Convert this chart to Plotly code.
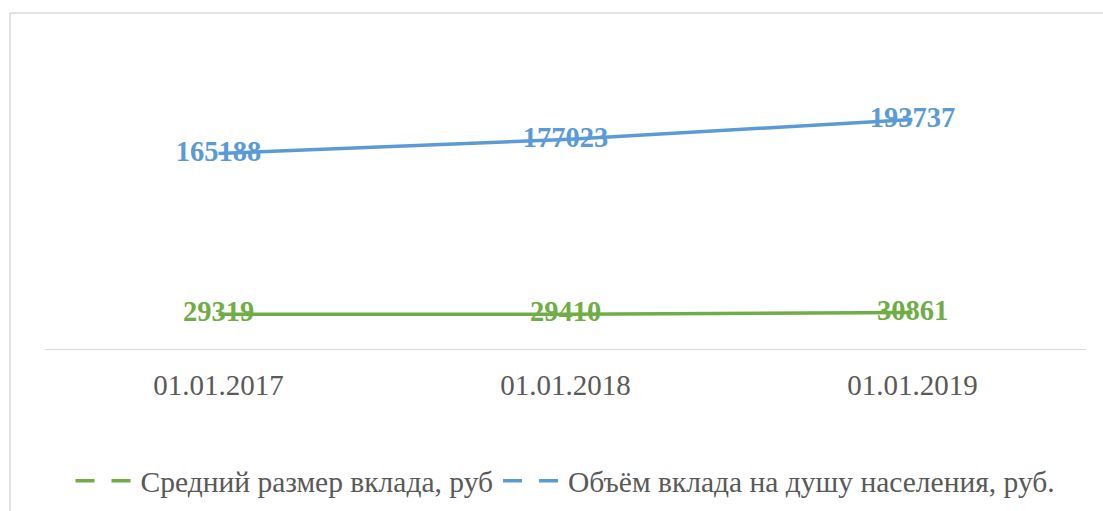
import plotly.graph_objects as go

categories = ["01.01.2017", "01.01.2018", "01.01.2019"]
avg_deposit = [29319, 29410, 30861]
per_capita = [165188, 177023, 193737]
series_names = ["Средний размер вклада, руб", "Объём вклада на душу населения, руб."]

GREEN = "#70ad47"
BLUE = "#5b9bd5"
SERIF = "Liberation Serif"

W, H = 1103, 511
ML, MR, MT, MB = 45, 17, 53, 162
PW, PH = W - ML - MR, H - MT - MB

def px_x(px):
    return (px - ML) / PW

def px_y(py):
    return (H - MB - py) / PH

fig = go.Figure()

for vals, color in [(avg_deposit, GREEN), (per_capita, BLUE)]:
    fig.add_trace(go.Scatter(
        x=categories, y=vals, mode="lines+text",
        text=[str(v) for v in vals], textposition="middle center",
        textfont=dict(family=SERIF, size=28.5, color=color, weight="bold"),
        line=dict(color=color, width=3.5),
        showlegend=False, hoverinfo="skip",
    ))

# legend entries (dashed symbols as in the reference)
for name, color in zip(series_names, [GREEN, BLUE]):
    fig.add_trace(go.Scatter(
        x=[None], y=[None], mode="lines", name=name,
        line=dict(color=color, width=3.5, dash="19px,17px"),
    ))

fig.update_layout(
    width=W, height=H,
    margin=dict(l=ML, r=MR, t=MT, b=MB, autoexpand=False),
    paper_bgcolor="white", plot_bgcolor="white",
    showlegend=True,
    legend=dict(
        orientation="h", x=0.5, xanchor="center", y=px_y(481), yanchor="middle",
        font=dict(family=SERIF, size=29.5, color="#595959"),
        itemwidth=60, tracegroupgap=0,
    ),
    xaxis=dict(
        type="category", showline=True, linecolor="#d9d9d9", linewidth=1.3,
        showgrid=False, zeroline=False, ticks="", automargin=False,
        tickfont=dict(family=SERIF, size=29, color="#595959"),
        ticklabelstandoff=10,
        range=[-0.5, 2.5],
    ),
    yaxis=dict(
        visible=False, range=[0, 250000], showgrid=False, zeroline=False,
    ),
    shapes=[
        dict(type="line", xref="paper", yref="paper",
             x0=px_x(10), x1=px_x(10), y0=px_y(13), y1=px_y(511),
             line=dict(color="#d9d9d9", width=1.5)),
        dict(type="line", xref="paper", yref="paper",
             x0=px_x(10), x1=px_x(1103), y0=px_y(13), y1=px_y(13),
             line=dict(color="#d9d9d9", width=1.5)),
    ],
)

fig.write_html(
    "out.html",
    config={"displayModeBar": False},
    post_script="document.body.style.margin='0';document.body.style.overflow='hidden';",
)
